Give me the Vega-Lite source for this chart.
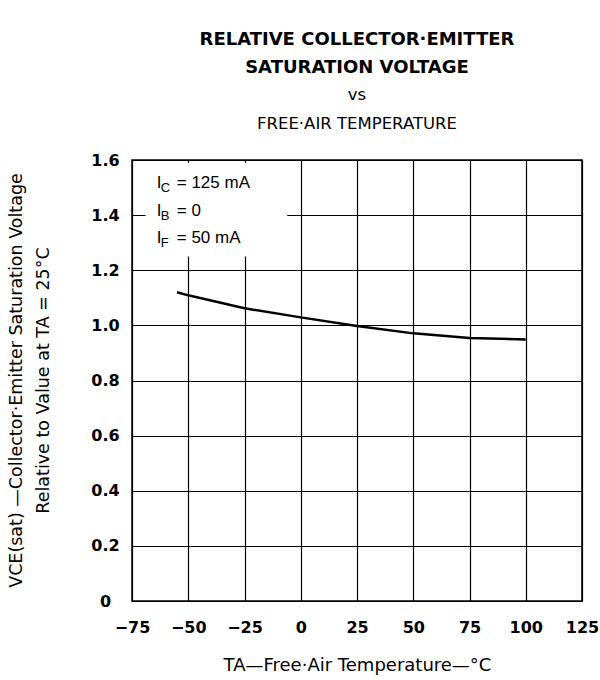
{
  "$schema": "https://vega.github.io/schema/vega-lite/v6.json",
  "width": 450,
  "height": 441,
  "autosize": {"type": "none"},
  "padding": {"left": 132, "top": 160, "right": 18, "bottom": 79},
  "background": "white",
  "config": {
    "font": "DejaVu Sans",
    "view": {"stroke": "black", "strokeWidth": 1.5}
  },
  "title": {
    "text": ["RELATIVE COLLECTOR·EMITTER", "SATURATION VOLTAGE"],
    "subtitle": ["vs", "FREE·AIR TEMPERATURE"],
    "anchor": "middle",
    "font": "DejaVu Sans",
    "fontSize": 18,
    "fontWeight": "bold",
    "lineHeight": 28,
    "subtitleFont": "DejaVu Sans",
    "subtitleFontSize": 16.5,
    "subtitleFontWeight": "normal",
    "subtitleLineHeight": 29,
    "subtitlePadding": 10,
    "color": "black",
    "subtitleColor": "black",
    "offset": 20
  },
  "datasets": {
    "curve": [
      {"t": -55, "v": 1.12},
      {"t": -50, "v": 1.109},
      {"t": -25, "v": 1.062},
      {"t": 0, "v": 1.029},
      {"t": 25, "v": 0.998},
      {"t": 50, "v": 0.971},
      {"t": 75, "v": 0.954},
      {"t": 100, "v": 0.949}
    ],
    "box": [{"t": -69, "t2": -6, "v": 1.25, "v2": 1.59}],
    "legend": [
      {"t": -64, "v": 1.498, "sym": "I", "sub": "C", "rest": "= 125 mA"},
      {"t": -64, "v": 1.398, "sym": "I", "sub": "B", "rest": "= 0"},
      {"t": -64, "v": 1.30, "sym": "I", "sub": "F", "rest": "= 50 mA"}
    ]
  },
  "encoding": {
    "x": {
      "field": "t",
      "type": "quantitative",
      "scale": {"domain": [-75, 125], "nice": false, "zero": false},
      "axis": {
        "values": [-75, -50, -25, 0, 25, 50, 75, 100, 125],
        "grid": true,
        "gridColor": "black",
        "gridWidth": 1.2,
        "gridOpacity": 1,
        "ticks": false,
        "domain": false,
        "labelFont": "DejaVu Sans",
        "labelFontSize": 16,
        "labelFontWeight": "bold",
        "labelColor": "black",
        "labelPadding": 18,
        "labelFlush": false,
        "title": "TA—Free·Air Temperature—°C",
        "titleFont": "DejaVu Sans",
        "titleFontSize": 18,
        "titleFontWeight": "normal",
        "titleColor": "black",
        "titleBaseline": "alphabetic",
        "titleY": 69
      }
    },
    "y": {
      "field": "v",
      "type": "quantitative",
      "scale": {"domain": [0, 1.6], "nice": false},
      "axis": {
        "values": [0, 0.2, 0.4, 0.6, 0.8, 1.0, 1.2, 1.4, 1.6],
        "labelExpr": "datum.value == 0 ? '0' : format(datum.value, '.1f')",
        "grid": true,
        "gridColor": "black",
        "gridWidth": 1.2,
        "gridOpacity": 1,
        "ticks": false,
        "domain": false,
        "labelFont": "DejaVu Sans",
        "labelFontSize": 16,
        "labelFontWeight": "bold",
        "labelColor": "black",
        "labelAlign": "center",
        "labelPadding": 27,
        "labelFlush": false,
        "title": ["VCE(sat) —Collector·Emitter Saturation Voltage", "Relative to Value at TA = 25°C"],
        "titleFont": "DejaVu Sans",
        "titleFontSize": 17.5,
        "titleFontWeight": "normal",
        "titleColor": "black",
        "titleAngle": -90,
        "titleAnchor": "middle",
        "titleBaseline": "top",
        "titleLineHeight": 27,
        "titleX": -125,
        "titleY": 220
      }
    }
  },
  "layer": [
    {
      "data": {"name": "box"},
      "mark": {"type": "rect", "fill": "white", "stroke": null},
      "encoding": {"x2": {"field": "t2"}, "y2": {"field": "v2"}}
    },
    {
      "data": {"name": "curve"},
      "mark": {"type": "line", "color": "black", "strokeWidth": 2.5}
    },
    {
      "data": {"name": "legend"},
      "mark": {"type": "text", "align": "left", "baseline": "alphabetic", "font": "Liberation Sans", "fontSize": 17, "color": "black"},
      "encoding": {"text": {"field": "sym"}}
    },
    {
      "data": {"name": "legend"},
      "mark": {"type": "text", "align": "left", "baseline": "alphabetic", "font": "Liberation Sans", "fontSize": 13, "dx": 4, "dy": 4, "color": "black"},
      "encoding": {"text": {"field": "sub"}}
    },
    {
      "data": {"name": "legend"},
      "mark": {"type": "text", "align": "left", "baseline": "alphabetic", "font": "Liberation Sans", "fontSize": 17, "dx": 20, "color": "black"},
      "encoding": {"text": {"field": "rest"}}
    }
  ]
}
